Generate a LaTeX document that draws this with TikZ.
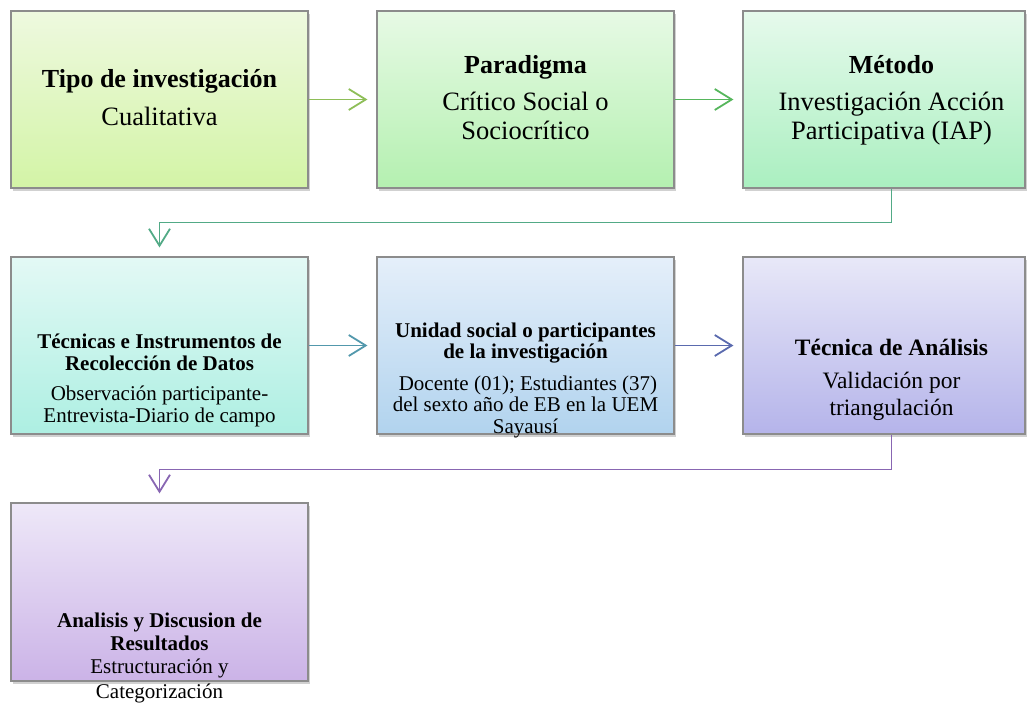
\documentclass[tikz,border=0pt]{standalone}
\usepackage{fontspec}
\setmainfont{Liberation Serif}
\usetikzlibrary{arrows.meta,shadows}
\definecolor{bordergray}{HTML}{8C8C8C}
\definecolor{aA}{HTML}{8EBE58}
\definecolor{aB}{HTML}{56B65C}
\definecolor{aC}{HTML}{52AA86}
\definecolor{aD}{HTML}{5298AC}
\definecolor{aE}{HTML}{5A6AAE}
\definecolor{aF}{HTML}{8866B2}
\begin{document}
\begin{tikzpicture}[x=1pt,y=-1pt,
  box/.style={draw=bordergray, line width=1.1pt, rectangle, inner sep=0pt,
    drop shadow={shadow xshift=2pt, shadow yshift=-3pt, opacity=0.3, fill=black!60}},
  conn/.style={line width=1.8pt, -{Straight Barb[length=17pt,width=21pt,line width=1.8pt]}, shorten >=9pt},
  txt/.style={inner sep=0pt, anchor=base, align=center},
  tA/.style={txt, font=\fontsize{26}{30}\selectfont\bfseries},
  bA/.style={txt, font=\fontsize{26.5}{30}\selectfont},
  tB/.style={txt, font=\fontsize{21}{24}\selectfont\bfseries},
  bB/.style={txt, font=\fontsize{21}{24}\selectfont},
  tC/.style={txt, font=\fontsize{23.5}{27}\selectfont\bfseries},
  bC/.style={txt, font=\fontsize{23.5}{27}\selectfont}]
\useasboundingbox (0,0) rectangle (1028,704);

% boxes
\node[box, top color={rgb,255:red,238;green,249;blue,223}, bottom color={rgb,255:red,211;green,244;blue,166},
  minimum width=297pt, minimum height=177pt] (b1) at (159.5,99.5) {};
\node[box, top color={rgb,255:red,231;green,250;blue,229}, bottom color={rgb,255:red,180;green,240;blue,176},
  minimum width=297pt, minimum height=177pt] (b2) at (525.5,99.5) {};
\node[box, top color={rgb,255:red,230;green,250;blue,236}, bottom color={rgb,255:red,170;green,239;blue,192},
  minimum width=282pt, minimum height=177pt] (b3) at (884,99.5) {};
\node[box, top color={rgb,255:red,227;green,249;blue,245}, bottom color={rgb,255:red,173;green,239;blue,226},
  minimum width=297pt, minimum height=177pt] (b4) at (159.5,345.5) {};
\node[box, top color={rgb,255:red,229;green,239;blue,250}, bottom color={rgb,255:red,177;green,211;blue,238},
  minimum width=297pt, minimum height=177pt] (b5) at (525.5,345.5) {};
\node[box, top color={rgb,255:red,232;green,232;blue,248}, bottom color={rgb,255:red,181;green,180;blue,234},
  minimum width=282pt, minimum height=177pt] (b6) at (884,345.5) {};
\node[box, top color={rgb,255:red,238;green,232;blue,248}, bottom color={rgb,255:red,203;green,179;blue,231},
  minimum width=297pt, minimum height=178pt] (b7) at (159.5,592) {};

% connectors
\draw[conn, color=aA] (b1.east) -- (b2.west);
\draw[conn, color=aB] (b2.east) -- (b3.west);
\draw[conn, color=aC] ([xshift=7.5pt]b3.south) -- ++(0,34) -| (b4.north);
\draw[conn, color=aD] (b4.east) -- (b5.west);
\draw[conn, color=aE] (b5.east) -- (b6.west);
\draw[conn, color=aF] ([xshift=7.5pt]b6.south) -- ++(0,35) -| (b7.north);

% texts
\node[tA] (t1a) at (159.5,87) {Tipo de investigación};
\node[bA] (t1b) at (159.5,125) {Cualitativa};

\node[tA] (t2a) at (525.5,73) {Paradigma};
\node[bA] (t2b) at (525.5,110) {Crítico Social o};
\node[bA] (t2c) at (525.5,139) {Sociocrítico};

\node[tA] (t3a) at (891.5,73) {Método};
\node[bA] (t3b) at (891.5,110) {Investigación Acción};
\node[bA] (t3c) at (891.5,139) {Participativa (IAP)};

\node[tB] (t4a) at (159.5,348) {Técnicas e Instrumentos de};
\node[tB] (t4b) at (159.5,370) {Recolección de Datos};
\node[bB] (t4c) at (159.5,400) {Observación participante-};
\node[bB] (t4d) at (159.5,422) {Entrevista-Diario de campo};

\node[tB] (t5a) at (525.5,337) {Unidad social o participantes};
\node[tB] (t5b) at (525.5,358) {de la investigación};
\node[bB] (t5c) at (528,390) {Docente (01); Estudiantes (37)};
\node[bB] (t5d) at (525.5,411) {del sexto año de EB en la UEM};
\node[bB] (t5e) at (525.5,433) {Sayausí};

\node[tC] (t6a) at (891.5,355) {Técnica de Análisis};
\node[bC] (t6b) at (891.5,388) {Validación por};
\node[bC] (t6c) at (891.5,415) {triangulación};

\node[tB] (t7a) at (159.5,627) {Analisis y Discusion de};
\node[tB] (t7b) at (159.5,650) {Resultados};
\node[bB] (t7c) at (159.5,673) {Estructuración y};
\node[bB] (t7d) at (159.5,698) {Categorización};
\end{tikzpicture}
\end{document}
